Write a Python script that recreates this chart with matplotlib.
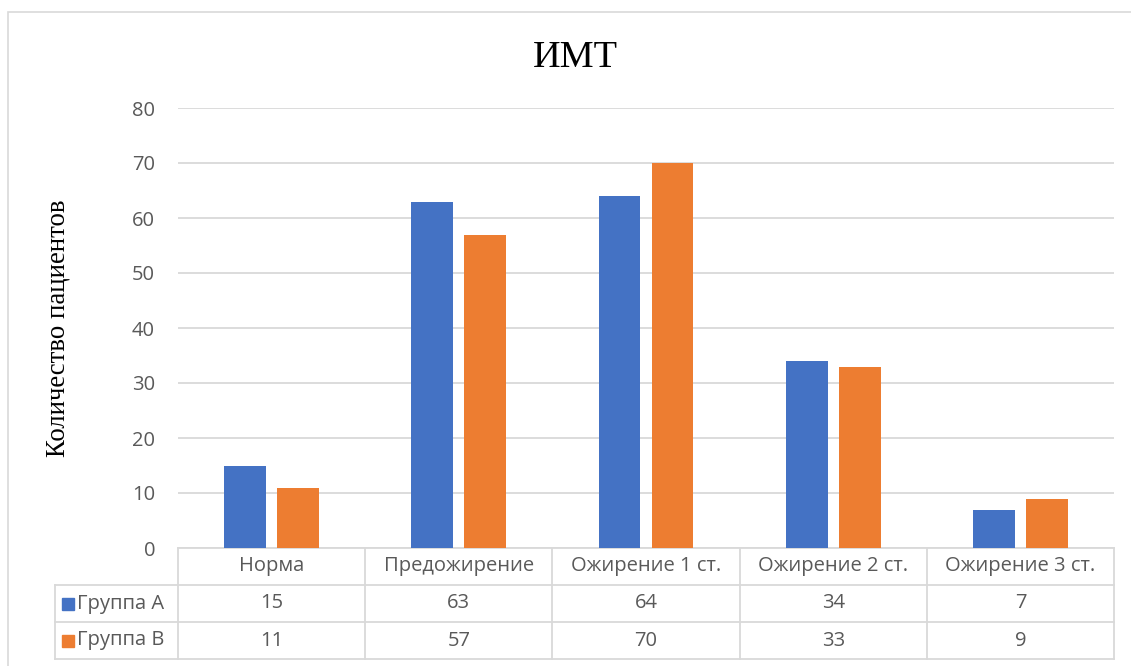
import matplotlib.pyplot as plt
from matplotlib.patches import Rectangle
from matplotlib.transforms import blended_transform_factory
import numpy as np

categories = ['Норма', 'Предожирение', 'Ожирение 1 ст.', 'Ожирение 2 ст.', 'Ожирение 3 ст.']
series_names = ['Группа А', 'Группа В']
group_a = [15, 63, 64, 34, 7]
group_b = [11, 57, 70, 33, 9]
colors = ['#4472C4', '#ED7D31']

text_color = '#595959'
line_color = '#d9d9d9'
sans = ['Open Sans', 'DejaVu Sans']
serif = ['Liberation Serif', 'DejaVu Serif']
fs = 14.5

W, H = 1131, 666
fig = plt.figure(figsize=(W / 100, H / 100), dpi=100)

# chart border (runs off the right and bottom edges)
fig.patches.append(Rectangle((8 / W, -0.1), 1.2, 1 - 12 / H + 0.1,
                             transform=fig.transFigure, fill=False,
                             edgecolor=line_color, lw=1.2))

left, right, top, bottom = 178, 1114, 108, 548
ax = fig.add_axes([left / W, 1 - bottom / H, (right - left) / W, (bottom - top) / H])

x = np.arange(len(categories))
bw = 0.224
off = 0.1415
ax.bar(x - off, group_a, bw, color=colors[0], zorder=3)
ax.bar(x + off, group_b, bw, color=colors[1], zorder=3)

ax.set_xlim(-0.5, len(categories) - 0.5)
ax.set_ylim(0, 80)
ax.set_yticks(range(0, 81, 10))
ax.yaxis.grid(True, color=line_color, lw=1.3, zorder=0)
ax.set_axisbelow(True)
for s in ax.spines.values():
    s.set_visible(False)
ax.set_xticks([])
ax.tick_params(axis='y', length=0, pad=16.5, labelsize=fs, labelcolor=text_color)
for lbl in ax.get_yticklabels():
    lbl.set_family(sans)

fig.text(575 / W, 1 - 67 / H, 'ИМТ', family=serif, fontsize=27.5,
         ha='center', va='baseline')
fig.text(58 / W, 1 - 328 / H, 'Количество пациентов', family=serif, fontsize=19.3,
         rotation=90, ha='center', va='center')

# data table under the axis
tr = blended_transform_factory(ax.transData, ax.transAxes)
row_h = 37 / (bottom - top)
rows = [0, -row_h, -2 * row_h, -3 * row_h]
x0, x1 = -0.5, len(categories) - 0.5
key_left = x0 - (left - 55) / ((right - left) / len(categories))
lk = dict(color=line_color, lw=1.3, transform=tr, clip_on=False)

ax.plot([x0, x1], [rows[0], rows[0]], **lk)
for r in rows[1:]:
    ax.plot([key_left, x1], [r, r], **lk)
for b in np.arange(x0, x1 + 0.01, 1):
    ax.plot([b, b], [rows[0], rows[3]], **lk)
ax.plot([key_left, key_left], [rows[1], rows[3]], **lk)

for i, cat in enumerate(categories):
    ax.text(i, (rows[0] + rows[1]) / 2, cat, transform=tr, ha='center', va='center',
            fontsize=fs, color=text_color, family=sans)
    for j, vals in enumerate([group_a, group_b]):
        ax.text(i, (rows[j + 1] + rows[j + 2]) / 2, str(vals[i]),
                transform=tr, ha='center', va='center', fontsize=fs,
                color=text_color, family=sans)

for j, name in enumerate(series_names):
    yc = 1 - (bottom + 37 * j + 37 + 18.5) / H
    fig.patches.append(Rectangle((62 / W, yc - 6 / H), 12 / W, 12 / H,
                                 transform=fig.transFigure, color=colors[j]))
    fig.text(77 / W, yc, name, fontsize=fs, color=text_color, family=sans,
             va='center', ha='left')

fig.savefig('out.png', dpi=100)
